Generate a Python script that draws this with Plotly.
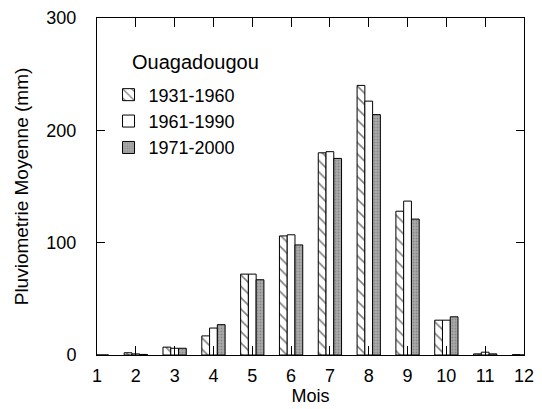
import plotly.graph_objects as go

months = list(range(1, 13))
tick_labels = [str(m) for m in months]
s1931 = [0.2, 2, 7, 17, 72, 106, 180, 240, 128, 31, 1, 0.3]
s1961 = [0, 1, 6, 24, 72, 107, 181, 226, 137, 31, 2.5, 0]
s1971 = [0, 0.5, 6, 27, 67, 98, 175, 214, 121, 34, 1, 0.5]
names = ["1931-1960", "1961-1990", "1971-2000"]
station = "Ouagadougou"

FONT = "Liberation Sans, Arial, sans-serif"
fig = go.Figure()
fig.add_trace(go.Bar(
    x=months, y=s1931, name=names[0],
    marker=dict(color="white", line=dict(color="black", width=1),
                pattern=dict(shape="\\", fgcolor="black", bgcolor="white", size=8, solidity=0.2)),
))
fig.add_trace(go.Bar(
    x=months, y=s1961, name=names[1],
    marker=dict(color="white", line=dict(color="black", width=1)),
))
fig.add_trace(go.Bar(
    x=months, y=s1971, name=names[2],
    marker=dict(color="#a0a0a0", line=dict(color="black", width=1),
                pattern=dict(shape=".", fgcolor="#666666", bgcolor="#aaaaaa", size=3, solidity=0.3)),
))

fig.update_layout(
    width=542, height=409,
    margin=dict(l=97, r=8, t=16, b=54),
    paper_bgcolor="white", plot_bgcolor="white",
    barmode="group", bargap=0.4, bargroupgap=0,
    font=dict(family=FONT, size=18, color="black"),
    showlegend=True,
    legend=dict(
        x=0.027, y=0.693, xanchor="left", yanchor="middle",
        bgcolor="rgba(0,0,0,0)", font=dict(size=18, family=FONT),
        itemwidth=30, tracegroupgap=0,
    ),
    annotations=[dict(
        text=station, xref="paper", yref="paper", x=0.078, y=0.870,
        xanchor="left", yanchor="middle", showarrow=False,
        font=dict(size=20, family=FONT, color="black"),
    )],
)
fig.update_xaxes(
    range=[1, 12], tickmode="array", tickvals=months, ticktext=tick_labels,
    ticks="inside", ticklen=9, tickcolor="black", tickwidth=1,
    showline=True, linecolor="black", linewidth=1, mirror="ticks",
    showgrid=False, zeroline=False, ticklabeloverflow="allow", ticklabelstandoff=4,
    title=dict(text="Mois", font=dict(size=18, family=FONT), standoff=2),
    tickfont=dict(size=18, family=FONT),
)
fig.update_yaxes(
    range=[0, 300], tickvals=[0, 100, 200, 300],
    ticks="inside", ticklen=8, tickcolor="black", tickwidth=1,
    showline=True, linecolor="black", linewidth=1, mirror="ticks",
    showgrid=False, zeroline=False, ticklabelstandoff=16, ticklabeloverflow="allow",
    title=dict(text="Pluviometrie Moyenne (mm)", font=dict(size=19, family=FONT), standoff=12),
    tickfont=dict(size=18, family=FONT),
)

fig.write_html("out.html")
